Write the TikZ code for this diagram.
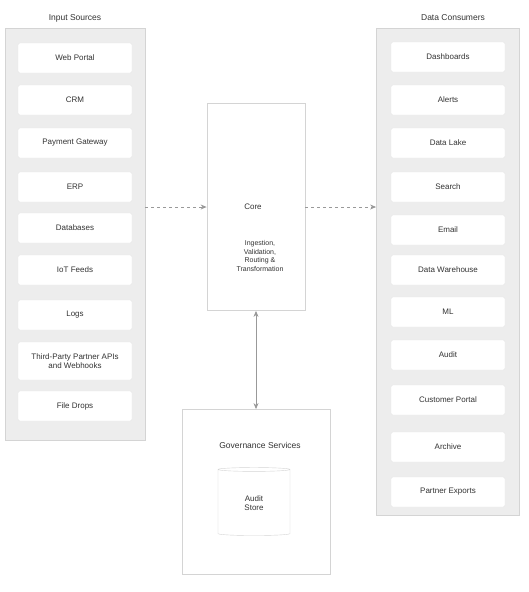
\documentclass[tikz,border=0pt]{standalone}
\usepackage{fontspec}
\setmainfont{Liberation Sans}
\usetikzlibrary{arrows.meta,shapes.geometric}
\definecolor{panelfill}{HTML}{EDEDED}
\definecolor{panelline}{HTML}{D4D4D4}
\definecolor{itemline}{HTML}{E6E6E6}
\definecolor{txt}{HTML}{333333}
\definecolor{conn}{HTML}{999999}
\tikzset{
  panel/.style={draw=panelline, fill=panelfill, line width=0.8pt, inner sep=0pt},
  paneltitle/.style={text=txt, font=\fontsize{8.5}{10}\selectfont},
  item/.style={draw=itemline, fill=white, rounded corners=2pt, minimum width=114pt, minimum height=30pt, inner sep=2pt,
    text=txt, font=\fontsize{8}{9.5}\selectfont, align=center},
  tallitem/.style={item, minimum height=38pt},
  hub/.style={draw=panelline, fill=white, line width=0.8pt, minimum width=98pt, minimum height=207pt, inner sep=0pt},
  small/.style={text=txt, font=\fontsize{7}{8.5}\selectfont, align=center},
  conn/.style={draw=conn, line width=0.8pt, dashed, -{Stealth[length=6pt,width=5pt]}},
  bconn/.style={draw=conn, line width=0.8pt, {Stealth[length=6pt,width=5pt]}-{Stealth[length=6pt,width=5pt]}},
  store/.style={cylinder, shape border rotate=90, aspect=0.15, draw=panelline, fill=white,
    minimum width=72pt, minimum height=68pt, text=txt, font=\fontsize{8}{9.5}\selectfont, align=center}
}
\begin{document}
\begin{tikzpicture}[x=1pt,y=-1pt]
\useasboundingbox (0,0) rectangle (529,592);
% left panel
\node[panel, minimum width=140pt, minimum height=412pt] (L) at (75,234) {};
\node[paneltitle] (Lt) at (75,18) {Input Sources};
\node[item] (l1) at (75,58) {Web Portal};
\node[item] (l2) at (75,100) {CRM};
\node[item] (l3) at (75,143) {Payment Gateway};
\node[item] (l4) at (75,187) {ERP};
\node[item] (l5) at (75,228) {Databases};
\node[item] (l6) at (75,270) {IoT Feeds};
\node[item] (l7) at (75,315) {Logs};
\node[tallitem] (l8) at (75,361) {Third-Party Partner APIs\\and Webhooks};
\node[item] (l9) at (75,406) {File Drops};
% right panel
\node[panel, minimum width=143pt, minimum height=487pt] (R) at (448,272) {};
\node[paneltitle] (Rt) at (453,18) {Data Consumers};
\node[item] (r1) at (448,57) {Dashboards};
\node[item] (r2) at (448,100) {Alerts};
\node[item] (r3) at (448,143) {Data Lake};
\node[item] (r4) at (448,187) {Search};
\node[item] (r5) at (448,230) {Email};
\node[item] (r6) at (448,270) {Data Warehouse};
\node[item] (r7) at (448,312) {ML};
\node[item] (r8) at (448,355) {Audit};
\node[item] (r9) at (448,400) {Customer Portal};
\node[item] (r10) at (448,447) {Archive};
\node[item] (r11) at (448,492) {Partner Exports};
% center hub
\node[hub] (H) at (256,207) {};
\node[small, font=\fontsize{8}{9.5}\selectfont] (Ht) at (253,207) {Core};
\node[small] (Hd) at (260,256) {Ingestion,\\Validation,\\Routing \&\\Transformation};
% bottom box
\node[draw=panelline, fill=white, line width=0.8pt, minimum width=148pt, minimum height=165pt] (B) at (256,492) {};
\node[paneltitle] (Bt) at (260,445) {Governance Services};
\node[store] (S) at (254,503) {Audit\\Store};
% connectors
\draw[conn] (L.east |- H.west) -- (H.west);
\draw[conn] (H.east) -- (R.west |- H.east);
\draw[bconn] (H.south) -- (B.north);
\end{tikzpicture}
\end{document}
